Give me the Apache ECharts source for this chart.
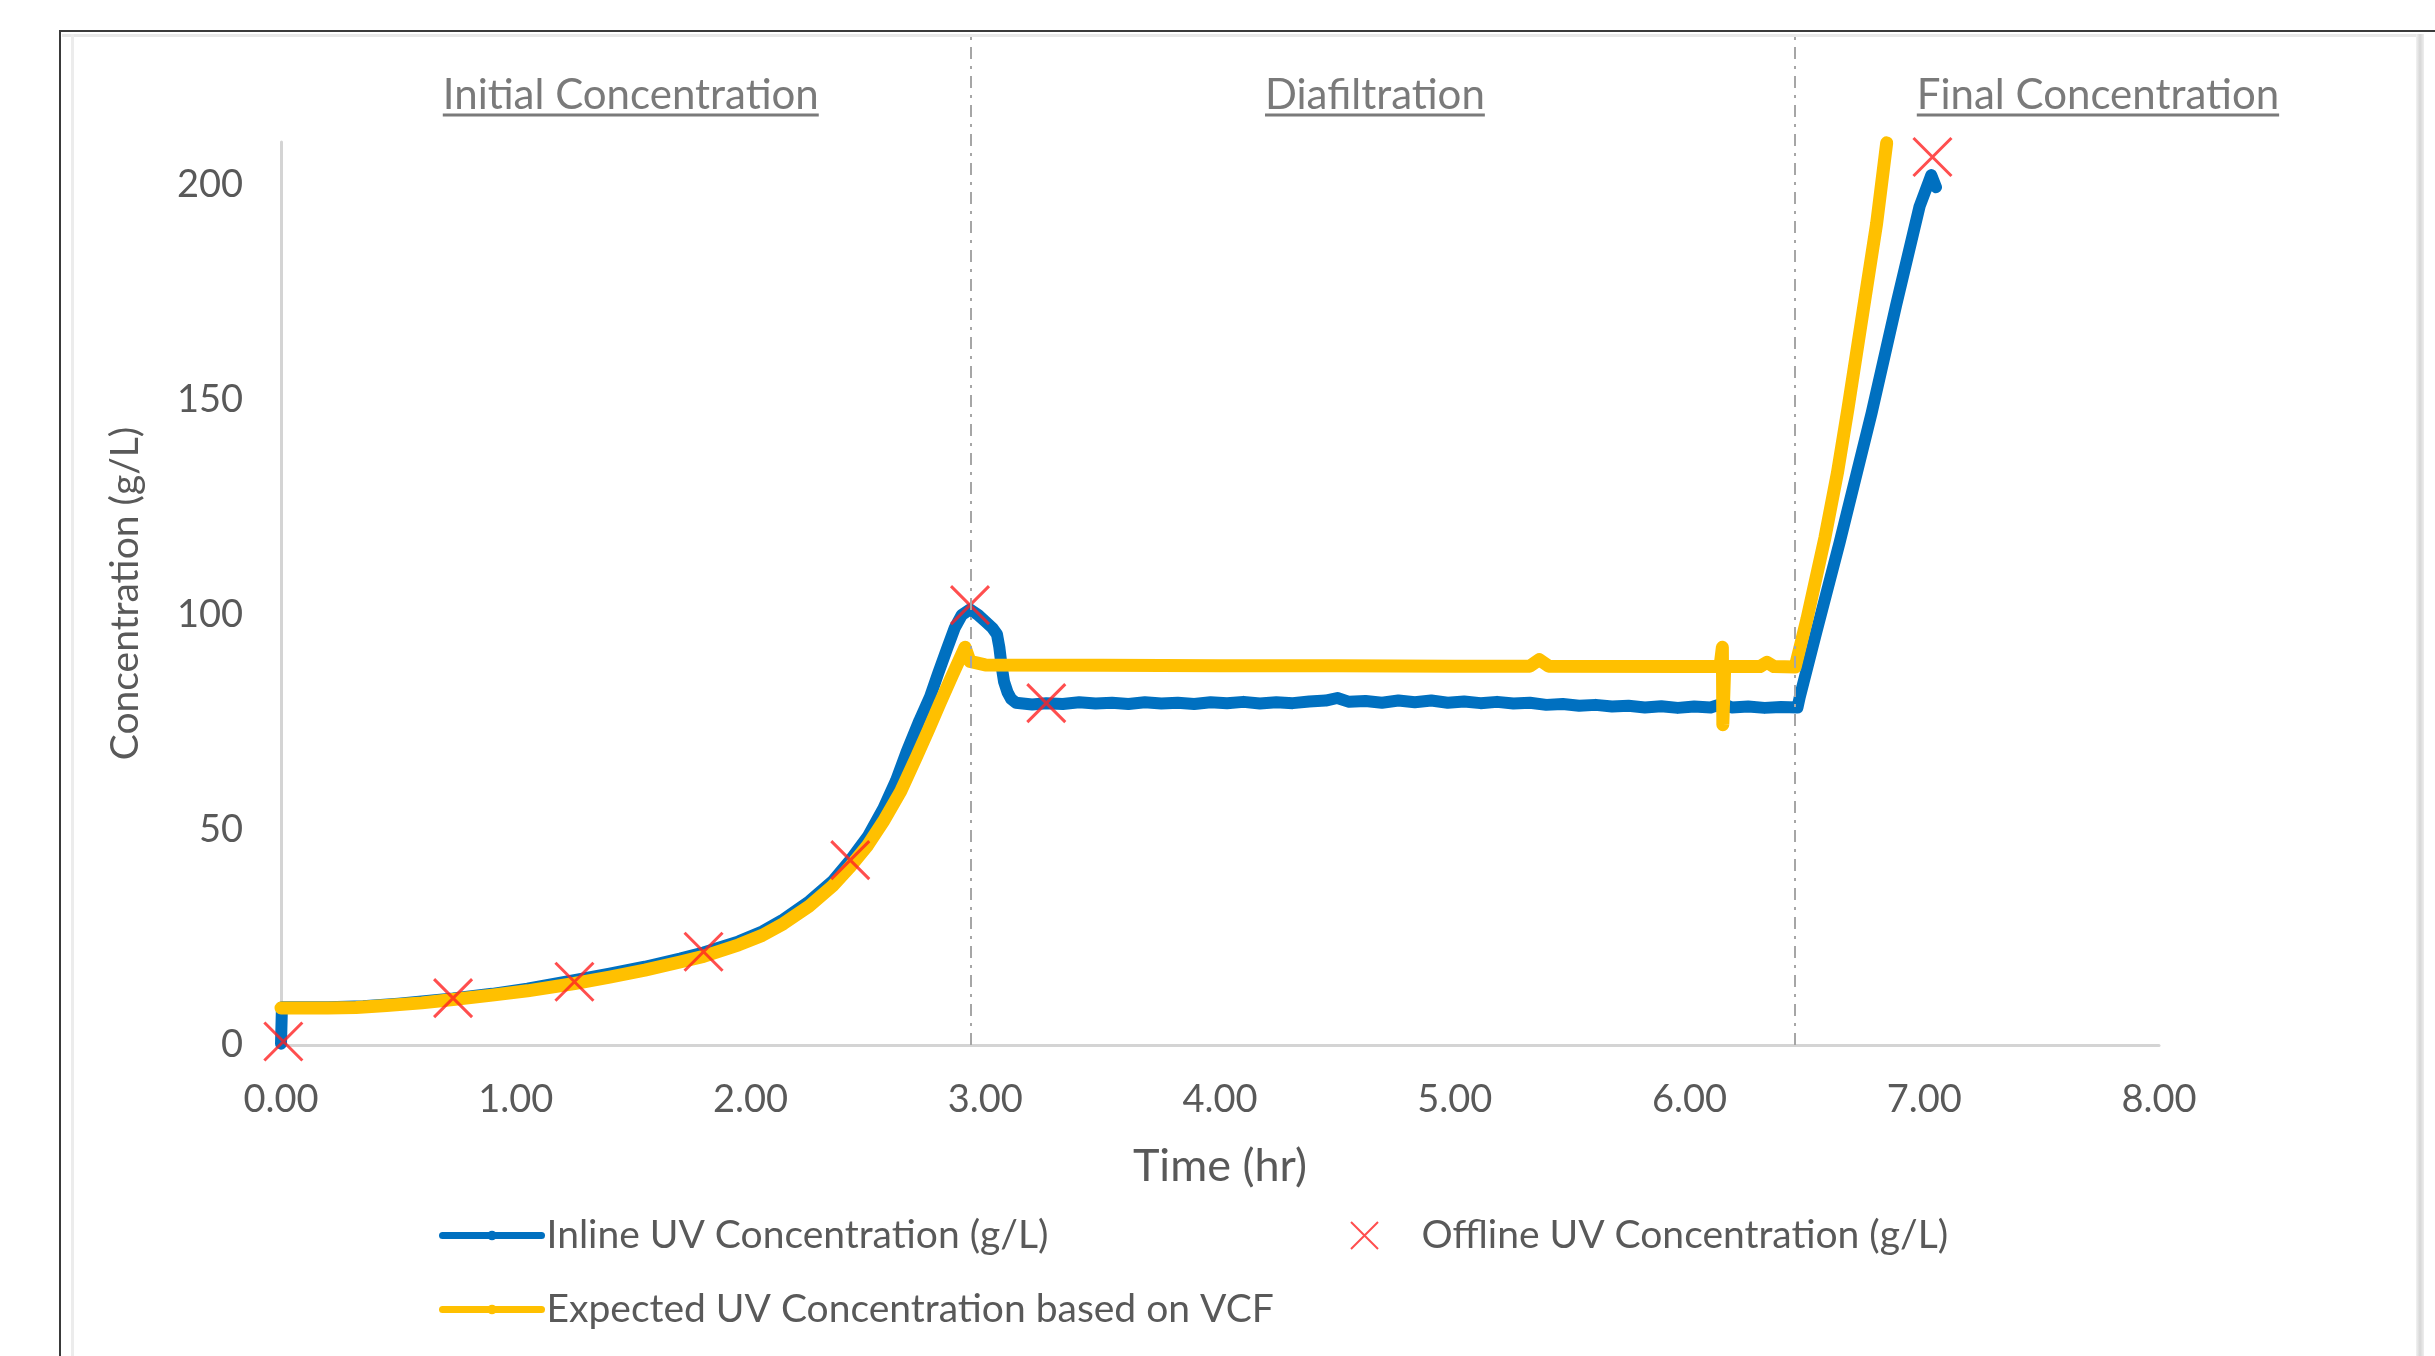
<!DOCTYPE html>
<html>
<head>
<meta charset="utf-8">
<title>Inline vs offline UV concentration</title>
<script src="https://cdn.jsdelivr.net/npm/echarts@6/dist/echarts.min.js"></script>
<style>
  html, body { margin: 0; padding: 0; background: #fff; }
  .frame { position: absolute; }
  #chart { position: absolute; left: 0; top: 0; width: 2435px; height: 1356px; }
</style>
</head>
<body>
<!-- picture frame around the chart -->
<div class="frame" style="left:59px;top:30px;width:2376px;height:2px;background:#3a3a3a"></div>
<div class="frame" style="left:59px;top:30px;width:2px;height:1326px;background:#3a3a3a"></div>
<div class="frame" style="left:62px;top:34px;width:2354px;height:3px;background:#e8e8e8"></div>
<div class="frame" style="left:71px;top:34px;width:3px;height:1322px;background:#ececec"></div>
<div class="frame" style="left:2416px;top:34px;width:8px;height:1322px;background:linear-gradient(to right,#f2f2f2,#d6d6d6,#eeeeee)"></div>
<div id="chart"></div>
<script>
// [time (hr), concentration (g/L)]
const inlineUV = [
  [0, 0.3], [0.004, 8.8], [0.2, 8.8], [0.35, 9.0], [0.5, 9.6], [0.733, 10.8], [0.9, 11.9],
  [1.05, 13.1], [1.25, 15.1], [1.4, 16.6], [1.55, 18.2], [1.7, 20.1], [1.8, 21.5], [1.95, 24.1],
  [2.05, 26.4], [2.14, 29.2], [2.25, 33.4], [2.35, 38.1], [2.425, 43], [2.5, 48.5], [2.566, 55],
  [2.62, 61.5], [2.664, 68], [2.72, 75.5], [2.765, 81], [2.8, 86.5], [2.836, 92], [2.87, 97],
  [2.9, 100], [2.935, 101.3], [2.97, 100], [3.0, 98.5], [3.03, 97], [3.05, 95.5], [3.06, 92.5],
  [3.07, 88], [3.08, 84.5], [3.095, 82], [3.11, 80.5], [3.13, 79.6], [3.2, 79.2], [3.26, 79.5],
  [3.33, 79.3], [3.4, 79.7], [3.47, 79.4], [3.54, 79.6], [3.61, 79.3], [3.68, 79.7], [3.75, 79.4],
  [3.82, 79.6], [3.89, 79.3], [3.96, 79.7], [4.03, 79.5], [4.1, 79.8], [4.17, 79.4], [4.24, 79.7],
  [4.31, 79.5], [4.38, 79.9], [4.45, 80.1], [4.5, 80.7], [4.55, 79.8], [4.62, 80.0], [4.69, 79.6],
  [4.76, 80.1], [4.83, 79.7], [4.9, 80.1], [4.97, 79.6], [5.04, 79.9], [5.11, 79.5], [5.18, 79.8],
  [5.25, 79.4], [5.32, 79.6], [5.39, 79.1], [5.46, 79.3], [5.53, 78.9], [5.6, 79.1], [5.67, 78.7],
  [5.74, 78.9], [5.81, 78.5], [5.88, 78.8], [5.95, 78.4], [6.02, 78.7], [6.09, 78.5], [6.14, 79.4],
  [6.18, 78.5], [6.25, 78.7], [6.32, 78.4], [6.39, 78.6], [6.46, 78.5],
  [6.47, 81], [6.54, 96], [6.64, 117], [6.776, 147], [6.88, 172], [6.98, 195], [7.03, 202.3], [7.05, 199.5]
]
const expectedUV = [
  [0, 8.6], [0.1, 8.6], [0.2, 8.6], [0.32, 8.7], [0.45, 9.2], [0.6, 9.8], [0.733, 10.6], [0.9, 11.6],
  [1.05, 12.6], [1.25, 14.3], [1.4, 15.8], [1.55, 17.4], [1.7, 19.3], [1.8, 20.6], [1.95, 23.3],
  [2.05, 25.5], [2.14, 28.2], [2.25, 32.3], [2.35, 37], [2.425, 41.5], [2.5, 46.5], [2.566, 52],
  [2.64, 59], [2.707, 67], [2.76, 73.5], [2.807, 79.5], [2.86, 86], [2.914, 92.5], [2.935, 89.2],
  [3.0, 88.4], [3.5, 88.3], [4.0, 88.2], [4.5, 88.2], [5.0, 88.1], [5.32, 88.1], [5.36, 89.6],
  [5.4, 88.1], [6.0, 88.0], [6.13, 88.0], [6.14, 92.5], [6.142, 74.5], [6.15, 88.0], [6.3, 88.0],
  [6.33, 89.0], [6.36, 88.0], [6.45, 87.9], [6.5, 99], [6.577, 118], [6.63, 133], [6.675, 148],
  [6.726, 166], [6.797, 191], [6.84, 209.8]
]
const offlineUV = [
  [0.01, 0.8], [0.733, 10.9], [1.25, 14.7], [1.8, 21.7], [2.425, 43.0], [2.935, 102.3], [3.26, 79.5], [7.035, 206.5]
]
const seriesNames = [
  'Inline UV Concentration (g/L)',
  'Offline UV Concentration (g/L)',
  'Expected UV Concentration based on VCF'
]
const phaseBoundaries = [2.94, 6.45]
const phaseNames = ['Initial Concentration', 'Diafiltration', 'Final Concentration']
const phaseCenters = [1.49, 4.66, 7.74]

const FONT = 'Lato'
const GREY = '#595959'
const PHASE_FONT = '42px Lato'

let measureCtx = document.createElement('canvas').getContext('2d')
function textWidth(s, font) {
  measureCtx.font = font
  return measureCtx.measureText(s).width
}

let myChart = echarts.init(document.getElementById('chart'), null, { renderer: 'canvas' })

const legendText = { fontFamily: FONT, fontSize: 39, color: GREY }

myChart.setOption({
  animation: false,
  grid: [
    { left: 281, right: 276, top: 142, bottom: 311 },
    // same x extent, reaching up to the frame, for phase dividers and labels
    { left: 281, right: 276, top: 31, bottom: 311 }
  ],
  xAxis: [
    {
      type: 'value', gridIndex: 0, min: 0, max: 8, interval: 1,
      name: 'Time (hr)', nameLocation: 'middle', nameGap: 99,
      nameTextStyle: { fontFamily: FONT, fontSize: 45, color: GREY },
      axisLine: { lineStyle: { color: '#d4d4d4', width: 3 } },
      axisTick: { show: false },
      splitLine: { show: false },
      axisLabel: {
        margin: 36, fontFamily: FONT, fontSize: 38, color: GREY,
        formatter: v => v.toFixed(2)
      }
    },
    { type: 'value', gridIndex: 1, min: 0, max: 8, show: false }
  ],
  yAxis: [
    {
      type: 'value', gridIndex: 0, min: 0, max: 210, interval: 50,
      name: 'Concentration (g/L)', nameLocation: 'middle', nameGap: 136,
      nameTextStyle: { fontFamily: FONT, fontSize: 39, color: GREY },
      axisLine: { show: true, lineStyle: { color: '#d4d4d4', width: 3 } },
      axisTick: { show: false },
      splitLine: { show: false },
      axisLabel: {
        margin: 38, fontFamily: FONT, fontSize: 38, color: GREY, showMaxLabel: false,
        formatter: v => (v % 50 === 0 ? String(v) : '')
      }
    },
    { type: 'value', gridIndex: 1, min: 0, max: 1, show: false }
  ],
  legend: [
    {
      data: [seriesNames[0]], left: 434, top: 1211, itemWidth: 99, itemHeight: 12,
      lineStyle: { width: 7 }, textStyle: legendText
    },
    {
      data: [seriesNames[1]], left: 1345, top: 1211, itemWidth: 104, itemHeight: 27,
      textStyle: legendText
    },
    {
      data: [seriesNames[2]], left: 434, top: 1285, itemWidth: 99, itemHeight: 12,
      lineStyle: { width: 7 }, textStyle: legendText
    }
  ],
  series: [
    {
      name: seriesNames[0],
      type: 'line',
      data: inlineUV,
      symbol: 'circle', symbolSize: 6, showSymbol: false,
      silent: true,
      itemStyle: { color: '#0070c0' },
      lineStyle: { color: '#0070c0', width: 12, cap: 'round', join: 'round' }
    },
    {
      name: seriesNames[2],
      type: 'line',
      data: expectedUV,
      symbol: 'circle', symbolSize: 6, showSymbol: false,
      silent: true,
      itemStyle: { color: '#ffc000' },
      lineStyle: { color: '#ffc000', width: 13, cap: 'round', join: 'round' }
    },
    {
      name: seriesNames[1],
      type: 'scatter',
      data: offlineUV,
      symbol: 'path://M0,0L10,10M10,0L0,10',
      symbolSize: 38,
      silent: true,
      z: 4,
      itemStyle: { color: 'rgba(0,0,0,0)', borderColor: '#ff2222', borderWidth: 3 }
    },
    {
      // phase labels and dividers
      type: 'custom',
      xAxisIndex: 1, yAxisIndex: 1,
      silent: true,
      z: 5,
      data: phaseCenters.map((x, i) => [x, i]),
      renderItem: function (params, api) {
        let p = api.coord([api.value(0), 1])
        let name = phaseNames[api.value(1)]
        let w = textWidth(name, PHASE_FONT)
        return {
          type: 'group',
          children: [
            {
              type: 'text', x: p[0], y: p[1] + 64,
              style: { text: name, font: PHASE_FONT, fill: '#7a7a7a', align: 'center', verticalAlign: 'middle' }
            },
            {
              type: 'line',
              shape: { x1: p[0] - w / 2, y1: p[1] + 84, x2: p[0] + w / 2, y2: p[1] + 84 },
              style: { stroke: '#7a7a7a', lineWidth: 3 }
            }
          ]
        }
      },
      markLine: {
        silent: true,
        symbol: 'none',
        label: { show: false },
        lineStyle: { color: '#a6a6a6', width: 2, type: [12, 7, 3, 7] },
        data: phaseBoundaries.map(x => ({ xAxis: x }))
      }
    }
  ]
})
</script>
</body>
</html>
